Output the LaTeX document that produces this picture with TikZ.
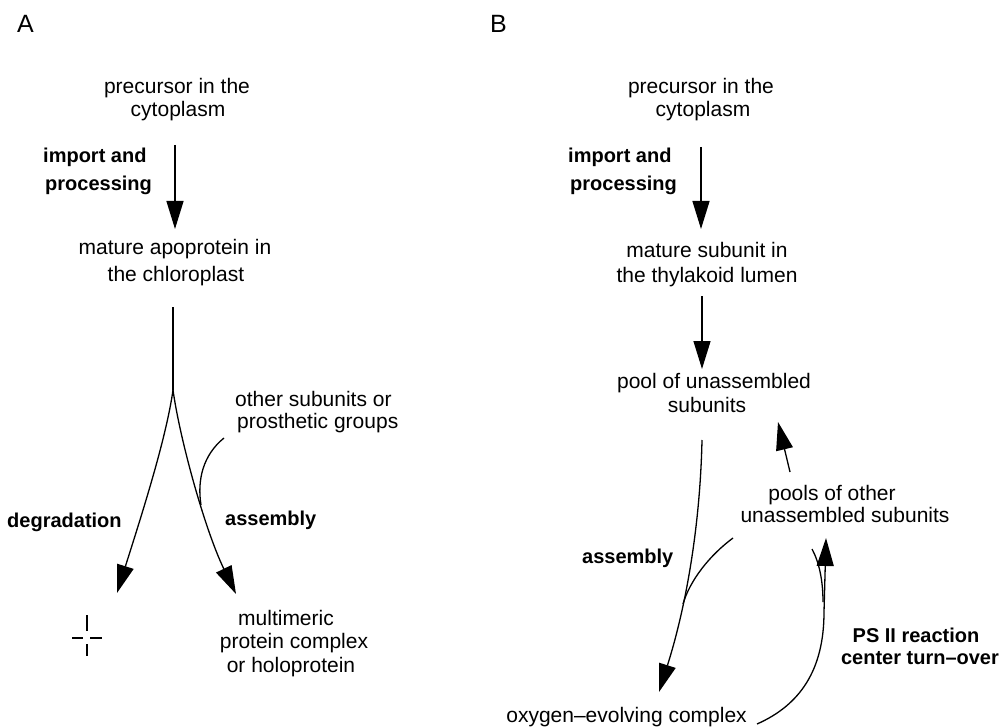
\documentclass[tikz,border=0pt]{standalone}
\usepackage{fontspec}
\setmainfont{Liberation Sans}
\usetikzlibrary{arrows.meta}
\tikzset{
  lbl/.style={inner sep=0pt, font=\fontsize{21}{23}\selectfont},
  blbl/.style={inner sep=0pt, font=\fontsize{20}{22}\selectfont\bfseries},
  panel/.style={inner sep=0pt, font=\fontsize{25}{27}\selectfont},
  ln/.style={line width=1.3pt},
  arr/.style={line width=1.3pt, -{Triangle[length=28pt,width=17pt]}}
}
\begin{document}
\begin{tikzpicture}[x=1pt,y=-1pt]
\useasboundingbox (0,0) rectangle (1000,727);
% panel letters
\node[panel, anchor=base west] (labA) at (17,33) {A};
\node[panel, anchor=base west] (labB) at (490,33) {B};
% ---------- panel A ----------
\node[lbl, anchor=base] (pA1) at (177,93.5) {precursor in the};
\node[lbl, anchor=base] (pA2) at (178,116.5) {cytoplasm};
\node[blbl, anchor=base west] (impA1) at (43,162.5) {import and};
\node[blbl, anchor=base west] (impA2) at (45,190.5) {processing};
\node[lbl, anchor=base] (mA1) at (175,254.5) {mature apoprotein in};
\node[lbl, anchor=base] (mA2) at (176,281.5) {the chloroplast};
\node[lbl, anchor=base west] (oA1) at (235,406) {other subunits or};
\node[lbl, anchor=base west] (oA2) at (237,428) {prosthetic groups};
\node[blbl, anchor=base west] (degA) at (7,527) {degradation};
\node[blbl, anchor=base west] (asmA) at (225,525) {assembly};
\node[lbl, anchor=base] (cA1) at (286,625) {multimeric};
\node[lbl, anchor=base] (cA2) at (294,648) {protein complex};
\node[lbl, anchor=base] (cA3) at (291,672) {or holoprotein};

\coordinate (a1s) at (175,145);
\coordinate (a1e) at (175,229);
\coordinate (a2s) at (173,307);
\coordinate (fork) at (173,390);
\coordinate (tipL) at (117,593);
\coordinate (tipR) at (236,594);
\coordinate (oth) at (224,438);
\coordinate (othm) at (201,505);

\draw[arr] (a1s) -- (a1e);
\draw[ln] (a2s) -- (fork);
\draw[arr] (fork) .. controls (166,440) and (140,520) .. (tipL);
\draw[arr] (fork) .. controls (180,440) and (205,530) .. (tipR);
\draw[ln] (oth) .. controls (203,455) and (197,480) .. (othm);

% cross (degraded)
\coordinate (xc) at (87,638);
\draw[ln] (87,615) -- (87,631);
\draw[ln] (87,644) -- (87,656);
\draw[ln] (72,638) -- (83,638);
\draw[ln] (90,638) -- (102,638);

% ---------- panel B ----------
\node[lbl, anchor=base] (pB1) at (701,93.5) {precursor in the};
\node[lbl, anchor=base] (pB2) at (703,116.5) {cytoplasm};
\node[blbl, anchor=base west] (impB1) at (568,162.5) {import and};
\node[blbl, anchor=base west] (impB2) at (570,190.5) {processing};
\node[lbl, anchor=base] (mB1) at (707,257) {mature subunit in};
\node[lbl, anchor=base] (mB2) at (707,282) {the thylakoid lumen};
\node[lbl, anchor=base] (pool1) at (714,388.5) {pool of unassembled};
\node[lbl, anchor=base] (pool2) at (707,412.5) {subunits};
\node[lbl, anchor=base] (oth1) at (832,500) {pools of other};
\node[lbl, anchor=base] (oth2) at (845,522) {unassembled subunits};
\node[blbl, anchor=base west] (asmB) at (582,563) {assembly};
\node[blbl, anchor=base] (ps1) at (916,642) {PS II reaction};
\node[blbl, anchor=base] (ps2) at (920,664) {center turn–over};
\node[lbl, anchor=base east] (oec) at (747,722) {oxygen–evolving complex};

\coordinate (b1s) at (701,147);
\coordinate (b1e) at (701,229);
\coordinate (b2s) at (702,296);
\coordinate (b2e) at (702,369);
\coordinate (b3s) at (702,440);
\coordinate (b3e) at (659,692);
\coordinate (m1) at (733,538);
\coordinate (m2) at (683,604);
\coordinate (u1) at (790,472);
\coordinate (u2) at (778,422);
\coordinate (l1) at (757,724);
\coordinate (l2) at (824,612);
\coordinate (l3) at (826,538);
\coordinate (h1) at (812,549);
\coordinate (h2) at (823,602);

\draw[arr] (b1s) -- (b1e);
\draw[arr] (b2s) -- (b2e);
\draw[arr] (b3s) .. controls (700,530) and (685,610) .. (b3e);
\draw[ln] (m1) .. controls (710,555) and (690,580) .. (m2);
\draw[arr] (u1) -- (u2);
\draw[arr] (l1) .. controls (800,705) and (824,670) .. (l2) -- (l3);
\draw[ln] (h1) .. controls (819,562) and (823,580) .. (h2);
\end{tikzpicture}
\end{document}
